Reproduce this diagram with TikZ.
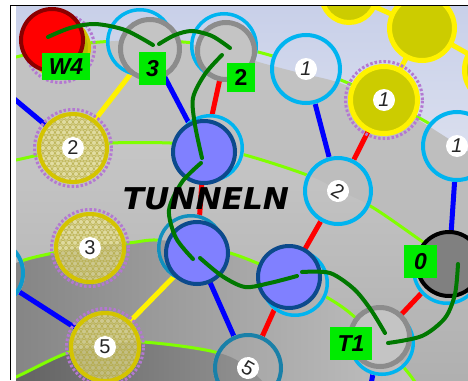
\documentclass[tikz,border=0pt]{standalone}
\usepackage{fontspec}
\setmainfont{Liberation Sans}
\newfontfamily\heavyfont{DejaVu Sans Bold Oblique}
\usetikzlibrary{positioning}
\definecolor{skyA}{RGB}{197,205,232}
\definecolor{skyB}{RGB}{224,228,240}
\definecolor{domeA}{RGB}{196,196,196}
\definecolor{domeB}{RGB}{178,178,178}
\definecolor{midA}{RGB}{198,198,198}
\definecolor{midB}{RGB}{174,174,174}
\definecolor{lowL}{RGB}{128,128,128}
\definecolor{lowR}{RGB}{194,194,194}
\definecolor{deepL}{RGB}{92,92,92}
\definecolor{deepR}{RGB}{150,150,150}
\definecolor{ringcyan}{RGB}{0,180,240}
\definecolor{ringteal}{RGB}{26,128,168}
\definecolor{lime}{RGB}{128,255,0}
\definecolor{tunnelfill}{RGB}{128,128,255}
\definecolor{tunnelrim}{RGB}{12,74,140}
\definecolor{stonegray}{RGB}{140,140,140}
\definecolor{stonefill}{RGB}{196,196,196}
\definecolor{olive}{RGB}{204,204,0}
\definecolor{hexring}{RGB}{212,196,0}
\definecolor{honeytint}{RGB}{246,238,140}
\definecolor{honeyline}{RGB}{176,166,60}
\definecolor{purpledot}{RGB}{180,120,210}
\definecolor{tagGreen}{RGB}{0,235,0}
\definecolor{routeGreen}{RGB}{0,120,0}
\definecolor{darkred}{RGB}{139,0,0}

\pgfdeclarelayer{board}
\pgfdeclarelayer{edges}
\pgfsetlayers{board,edges,main}

% rings of the board
\def\ringone{plot[smooth,tension=.6] coordinates {(-20,66) (16,57) (60,47) (100,42) (150,40) (183,42) (225,46) (262,53) (306,67) (348,83) (384,100) (430,124) (490,162)}}
\def\domeline{plot[smooth,tension=.6] coordinates {(-20,66) (16,57) (60,47) (100,42) (150,40) (183,43) (225,52) (262,63) (300,73) (340,83) (390,104) (430,127) (490,166)}}
\def\ringtwo{plot[smooth,tension=.6] coordinates {(-20,165) (16,160) (73,147) (110,143) (170,143) (204,147) (245,155) (307,175) (338,190) (372,207) (420,240) (449,261) (490,292)}}
\def\ringthree{plot[smooth,tension=.6] coordinates {(-20,283) (16,263) (53,253) (90,246) (128,243) (157,240) (197,245) (230,253) (257,263) (289,277) (323,295) (350,313) (380,342) (410,375) (425,400)}}
\def\ringfour{plot[smooth,tension=.6] coordinates {(-20,392) (16,377) (67,353) (105,345) (143,342) (215,352) (248,368) (280,400)}}

\newcommand{\boardfill}{%
  \shade[top color=skyA, bottom color=skyB] (-20,-20) rectangle (500,200);
  \shade[top color=domeA, bottom color=domeB] \domeline -- (500,400) -- (-20,400) -- cycle;
  \shade[top color=midA, bottom color=midB] \ringtwo -- (500,400) -- (-20,400) -- cycle;
  \shade[left color=lowL, right color=lowR] \ringthree -- (-20,400) -- cycle;
  \shade[left color=deepL, right color=deepR] \ringfour -- (-20,400) -- cycle;
}
\newcommand{\frameclip}{\clip (16,6) rectangle (468,380);}
\newcommand{\patch}[3]{\begin{scope}\clip (#1,#2) circle[radius=#3pt]; \boardfill\end{scope}}
\newcommand{\honey}[3]{%
  \begin{scope}
    \clip (#1,#2) circle[radius=#3pt];
    \boardfill
    \fill[honeytint, opacity=.6] (#1,#2) circle[radius=#3pt];
    \foreach \i in {-6,...,6}
      \foreach \j in {-7,...,7}
        \draw[honeyline, line width=.7pt, opacity=.7] ({#1+\i*6+3*mod(abs(\j),2)},{#2+\j*5.2}) circle[radius=2.6pt];
  \end{scope}}

\tikzset{
  ring/.style={circle, inner sep=0pt, outer sep=0pt, line width=4pt, minimum size=#1},
  cyanring/.style={ring=#1, draw=ringcyan},
  tealring/.style={ring=#1, draw=ringteal},
  halo/.style={ring=#1, draw=ringcyan, line width=3.5pt},
  stone/.style={ring=#1, draw=stonegray, fill=stonefill, line width=5pt},
  tunnel/.style={ring=#1, draw=tunnelrim, fill=tunnelfill},
  sun/.style={ring=#1, draw=yellow, fill=olive, line width=5pt},
  hexpiece/.style={ring=#1, draw=hexring},
  dotring/.style={ring=#1, draw=purpledot, line width=3pt, dash pattern=on 2.5pt off 2pt},
  numdisc/.style={circle, fill=white, inner sep=0pt, minimum size=22pt, text=black!85, font=\fontsize{20}{20}\selectfont},
  tag/.style={fill=tagGreen, inner sep=0pt, minimum height=30pt, font=\fontsize{23}{23}\selectfont\bfseries\itshape},
  route/.style={draw=routeGreen, line width=4pt, line cap=round},
  blueway/.style={draw=blue, line width=5pt},
  redway/.style={draw=red, line width=5pt},
  yellowway/.style={draw=yellow, line width=5pt},
  limering/.style={draw=lime, line width=3pt},
}

\begin{document}
\begin{tikzpicture}[x=1pt,y=-1pt]
\useasboundingbox (0,0) rectangle (468,380);
\begin{scope}
\frameclip
% top right pieces
\node[sun=55] (s1) at (349,-5) {};
\node[sun=65] (s2) at (422,28) {};
\node[sun=65] (s3) at (497,70) {};
% W4
\node[dotring=69] (w4d) at (60,48) {};
\node[ring=59, draw=hexring, fill=olive!90!black, line width=3pt] (w4y) at (60,48) {};
\node[ring=62, draw=darkred, fill=red] (w4) at (52,40) {};
% 3 and 2
\patch{140}{42}{34}
\node[halo=64.5] (n3h) at (140,42) {};
\node[stone=59] (n3) at (150,49) {};
\patch{224}{46}{34}
\node[halo=64.5] (n2h) at (224,46) {};
\node[stone=57] (n2) at (226,51) {};
% ones
\patch{306}{69}{36}
\node[cyanring=68] (c1) at (306,69) {};
\node[dotring=77] (y1d) at (384,100) {};
\node[sun=67] (y1) at (384,100) {};
\patch{457}{146}{36}
\node[cyanring=68] (c1r) at (457,146) {};
% hatched pieces
\honey{73}{148}{36}
\node[hexpiece=68] (y2) at (73,148) {};
\node[dotring=77] at (73,148) {};
\honey{90}{248}{36}
\node[hexpiece=68] (y3) at (90,248) {};
\node[dotring=77] at (90,248) {};
\honey{105}{347}{36}
\node[hexpiece=68] (y5) at (105,347) {};
\node[dotring=77] at (105,347) {};
\patch{-10}{273}{35}
\node[ring=66, draw=ringteal!50!ringcyan] (lp) at (-10,273) {};
% tunnel
\patch{210}{148}{34}
\node[halo=64.5] (tah) at (210,148) {};
\node[tunnel=62] (ta) at (204,152) {};
\patch{191}{248}{34}
\node[halo=64.5, draw=ringteal!70!ringcyan] (tbh) at (191,248) {};
\node[tunnel=62] (tb) at (197,253) {};
\patch{295}{283}{34}
\node[halo=64.5] (tch) at (295,283) {};
\node[tunnel=62] (tc) at (289,277) {};
\patch{338}{191}{35}
\node[cyanring=66] (c2) at (338,191) {};
% 0 and T1
\patch{447}{270}{35}
\node[halo=66.5] (k0h) at (447,270) {};
\node[ring=64, draw=black, fill=black!50] (k0) at (449,264) {};
\patch{382}{343}{33}
\node[halo=62.5] (t1h) at (382,343) {};
\node[stone=59] (t1) at (380,337) {};
\patch{248}{368}{35}
\node[tealring=66] (b5) at (248,368) {};
% numbers
\node[numdisc, font=\fontsize{20}{20}\selectfont\itshape] at (c1) {1};
\node[numdisc, font=\fontsize{20}{20}\selectfont\itshape] at (y1) {1};
\node[numdisc, font=\fontsize{20}{20}\selectfont\itshape] at (c1r) {1};
\node[numdisc, rotate=-30] at (c2) {2};
\node[numdisc, rotate=-30] at (b5) {5};
\node[numdisc] at (y2) {2};
\node[numdisc] at (y3) {3};
\node[numdisc] at (y5) {5};
% route
\draw[route] plot[smooth] coordinates {(48,37) (70,28) (95,24) (125,30) (153,45)};
\draw[route] plot[smooth] coordinates {(159,44) (175,35) (192,31) (212,36) (230,48)};
\draw[route] plot[smooth] coordinates {(222,55) (205,74) (193,98) (195,125) (202,158)};
\draw[route] plot[smooth] coordinates {(201,163) (182,182) (169,210) (176,238) (193,259)};
\draw[route] plot[smooth] coordinates {(200,258) (222,276) (245,287) (270,283) (297,276)};
\draw[route] plot[smooth] coordinates {(302,272) (330,273) (354,289) (371,310) (385,333)};
\draw[route] plot[smooth] coordinates {(388,343) (422,336) (445,318) (455,294) (458,264)};
% tags
\node[tag, minimum width=48pt, minimum height=27pt] (tagw4) at (66,66.5) {W4};
\node[tag, minimum width=27pt, minimum height=33pt] (tag3) at (152.5,68.5) {3};
\node[tag, minimum width=28pt, minimum height=29pt, font=\fontsize{23}{23}\selectfont\bfseries] (tag2) at (241,77.5) {2};
\node[tag, minimum width=33pt, minimum height=33pt] (tag0) at (420.5,261.5) {0};
\node[tag, minimum width=42pt, minimum height=33pt] (tagt1) at (351,343.5) {T1};
\node[font=\heavyfont\fontsize{30}{30}\selectfont, xscale=1.04, inner sep=0pt] (tunnelname) at (206,199) {TUNNELN};
\end{scope}

\begin{pgfonlayer}{edges}
\begin{scope}
\frameclip
\coordinate (lw) at (0,87);
\coordinate (bt) at (368,400);
\draw[limering] \ringone;
\draw[limering] \ringtwo;
\draw[limering] \ringthree;
\draw[limering] \ringfour;
\draw[blueway] (lw) -- (y2);
\draw[yellowway] (y2) -- (n3);
\draw[blueway] (n3) -- (ta);
\draw[redway] (n2) -- (ta);
\draw[redway] (ta) -- (tb);
\draw[blueway] (c1) -- (c2);
\draw[redway] (y1) -- (c2);
\draw[blueway] (c1r) -- (k0);
\draw[redway] (c2) -- (tc);
\draw[redway] (k0) -- (t1);
\draw[redway] (tc) -- (b5);
\draw[blueway] (tb) -- (b5);
\draw[yellowway] (tb) -- (y5);
\draw[blueway] (lp) -- (y5);
\draw[blueway] (t1) -- (bt);
\draw[yellowway] (y1) -- (s2);
\draw[yellowway] (s1) -- (s2);
\draw[yellowway] (s2) -- (s3);
\end{scope}
\end{pgfonlayer}

\begin{pgfonlayer}{board}
\begin{scope}
\frameclip
\boardfill
\end{scope}
\end{pgfonlayer}

\draw[line width=1pt] (10,380) -- (10,5) -- (468,5);
\end{tikzpicture}
\end{document}
